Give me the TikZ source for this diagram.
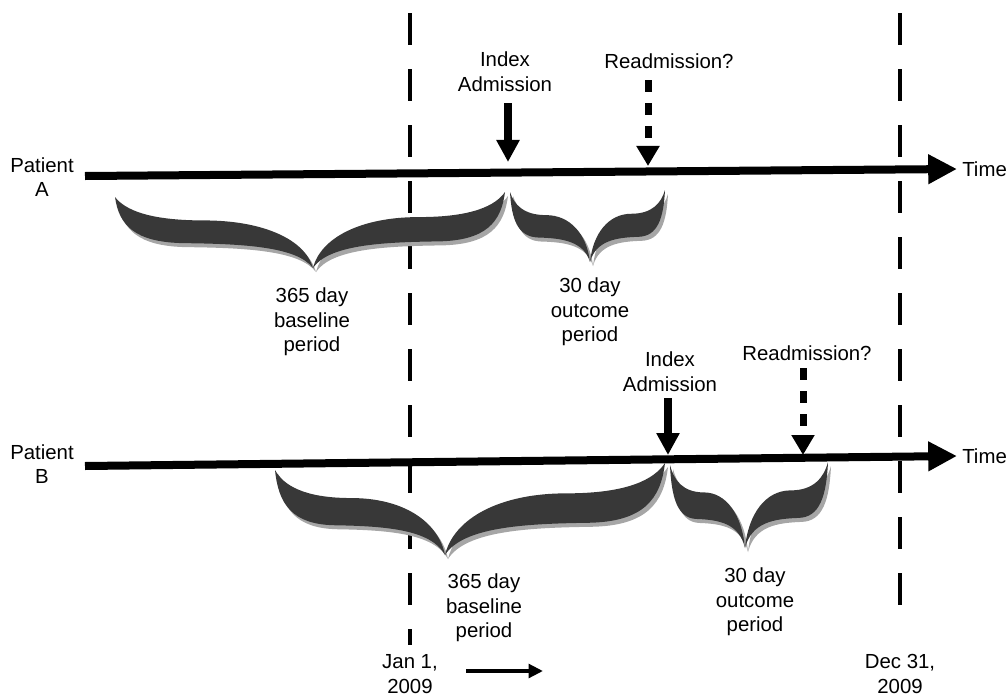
\documentclass[tikz,border=0pt]{standalone}
\usepackage{fontspec}
\setmainfont{Liberation Sans}
\usetikzlibrary{arrows.meta}

% one half of a curly brace, x=0 at the free end, x=1 at the tip
\def\halfshape{(0,0) .. controls (0.02,0.4) and (0.1,0.64) .. (0.35,0.65)
  .. controls (0.65,0.66) and (0.92,0.7) .. (1,1)
  .. controls (0.96,0.6) and (0.75,0.33) .. (0.45,0.33)
  .. controls (0.17,0.33) and (0.05,0.18) .. (0,0) -- cycle}
\newcommand{\bracehalf}[4]{%
  \fill[braceshadow,shift={(#1+3,#2+4)},xscale=#3,yscale=#4] \halfshape;
  \fill[bracefill,shift={(#1,#2)},xscale=#3,yscale=#4] \halfshape;}

\tikzset{
  lbl/.style={align=center,inner sep=0pt,font=\fontsize{14.5}{17.5}\selectfont},
  timeline/.style={line width=0.2cm,-{Triangle[length=0.72cm,width=0.7cm]}},
  admit/.style={line width=0.2cm,-{Triangle[length=0.55cm,width=0.55cm]}},
  readmit/.style={line width=0.175cm,dash pattern=on 0.3cm off 0.28cm,
    -{Triangle[length=0.5cm,width=0.55cm]}},
  dateline/.style={line width=0.1cm,dash pattern=on 0.8cm off 0.6cm},
  forward/.style={line width=0.1cm,-{Triangle[length=0.36cm,width=0.34cm]}},
  bracefill/.style={black!78},
  braceshadow/.style={black!35}
}

\begin{document}
\begin{tikzpicture}[x=0.025cm,y=-0.025cm]
    \useasboundingbox (0,0) rectangle (1008,698);

    % date lines
    \coordinate (janTop) at (410,13);
    \coordinate (janBot) at (410,645);
    \coordinate (decTop) at (900,13);
    \coordinate (decBot) at (900,617);
    \draw[dateline] (janTop) -- (janBot);
    \draw[dateline] (decTop) -- (decBot);

    % patient A
    \node[lbl] at (42,177) (patA) {Patient\\A};
    \coordinate (tA0) at (85,176);
    \coordinate (tA1) at (957,169);
    \node[lbl,anchor=west] at (962,169) (timeA) {Time};
    \draw[timeline] (tA0) -- (tA1);

    \node[lbl] at (505,72) (idxA) {Index\\Admission};
    \coordinate (iA0) at (508,103);
    \coordinate (iA1) at (508,162);
    \draw[admit] (iA0) -- (iA1);
    \node[lbl] at (669,61) (readA) {Readmission?};
    \coordinate (rA0) at (648,80);
    \coordinate (rA1) at (648,166);
    \draw[readmit] (rA0) -- (rA1);

    \bracehalf{115}{197}{198}{71}
    \bracehalf{505}{192}{-192}{76}
    \bracehalf{510}{192}{80}{70}
    \bracehalf{665}{190}{-75}{72}
    \node[lbl] at (312,322) (baseA) {365 day\\baseline\\period};
    \node[lbl] at (590,312) (outA) {30 day\\outcome\\period};

    % patient B
    \node[lbl] at (42,464) (patB) {Patient\\B};
    \coordinate (tB0) at (85,466);
    \coordinate (tB1) at (957,456);
    \node[lbl,anchor=west] at (962,456) (timeB) {Time};
    \draw[timeline] (tB0) -- (tB1);

    \node[lbl] at (670,372) (idxB) {Index\\Admission};
    \coordinate (iB0) at (668,398);
    \coordinate (iB1) at (668,455);
    \draw[admit] (iB0) -- (iB1);
    \node[lbl] at (807,353) (readB) {Readmission?};
    \coordinate (rB0) at (803,368);
    \coordinate (rB1) at (803,455);
    \draw[readmit] (rB0) -- (rB1);

    \bracehalf{275}{470}{170}{85}
    \bracehalf{665}{463}{-220}{92}
    \bracehalf{670}{465}{75}{83}
    \bracehalf{828}{462}{-83}{86}
    \node[lbl] at (484,608) (baseB) {365 day\\baseline\\period};
    \node[lbl] at (755,602) (outB) {30 day\\outcome\\period};

    % dates
    \node[lbl] at (410,674) (jan) {Jan 1,\\2009};
    \node[lbl] at (900,674) (dec) {Dec 31,\\2009};
    \coordinate (fwd0) at (466,671);
    \coordinate (fwd1) at (543,671);
    \draw[forward] (fwd0) -- (fwd1);
\end{tikzpicture}
\end{document}
